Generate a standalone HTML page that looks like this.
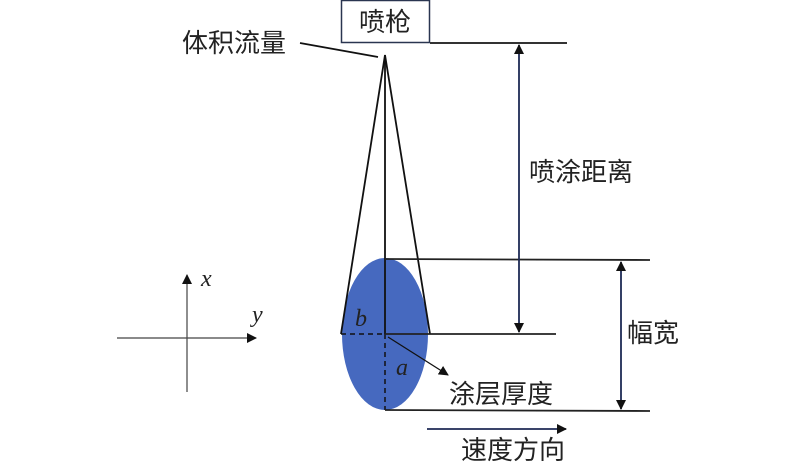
<!DOCTYPE html>
<html><head><meta charset="utf-8"><style>
html,body{margin:0;padding:0;background:#fff;}
svg{display:block;}
text{font-family:"Liberation Serif","Noto Serif CJK SC","Noto Sans CJK SC",serif;fill:#222;}
.cjk{font-family:"Liberation Sans","Noto Sans CJK SC",sans-serif;font-size:26px;}
.it{font-style:italic;font-size:24px;}
</style></head><body>
<svg width="800" height="464" viewBox="0 0 800 464" xmlns="http://www.w3.org/2000/svg">
<defs>
<marker id="ah" markerWidth="10" markerHeight="10" refX="9" refY="5" orient="auto" markerUnits="userSpaceOnUse">
<path d="M0,0 L10,5 L0,10 z" fill="#111"/></marker>
<marker id="ahb" markerWidth="10" markerHeight="10" refX="9" refY="5" orient="auto-start-reverse" markerUnits="userSpaceOnUse">
<path d="M0,0 L10,5 L0,10 z" fill="#111"/></marker>
</defs>
<ellipse cx="385" cy="334" rx="43" ry="76" fill="#4669bf"/>
<rect x="341.5" y="0.5" width="88" height="42" fill="#fff" stroke="#2a3550" stroke-width="1.5"/>
<text class="cjk" x="385" y="31" text-anchor="middle">喷枪</text>
<line x1="430" y1="43" x2="567" y2="43" stroke="#333" stroke-width="2"/>
<line x1="300" y1="43" x2="378" y2="57" stroke="#111" stroke-width="1.8"/>
<text class="cjk" x="182" y="52">体积流量</text>
<polyline points="341,334 385,55 430,334" fill="none" stroke="#111" stroke-width="1.8"/>
<line x1="385" y1="55" x2="385" y2="334" stroke="#111" stroke-width="1.8"/>
<line x1="341" y1="334" x2="385" y2="334" stroke="#111" stroke-width="1.5" stroke-dasharray="5,4"/>
<line x1="385" y1="334" x2="385" y2="410" stroke="#111" stroke-width="1.5" stroke-dasharray="5,4"/>
<line x1="385" y1="334" x2="556" y2="334" stroke="#222" stroke-width="1.8"/>
<line x1="385" y1="259" x2="650" y2="260" stroke="#222" stroke-width="1.8"/>
<line x1="385" y1="410" x2="650" y2="411" stroke="#222" stroke-width="1.8"/>
<line x1="519" y1="45" x2="519" y2="332" stroke="#1e2a55" stroke-width="1.8" marker-start="url(#ahb)" marker-end="url(#ahb)"/>
<text class="cjk" x="529" y="181">喷涂距离</text>
<line x1="621" y1="262" x2="621" y2="409" stroke="#1e2a55" stroke-width="1.8" marker-start="url(#ahb)" marker-end="url(#ahb)"/>
<text class="cjk" x="627" y="342">幅宽</text>
<line x1="388" y1="337" x2="448" y2="375" stroke="#111" stroke-width="1.3" marker-end="url(#ah)"/>
<text class="cjk" x="449" y="403">涂层厚度</text>
<text class="it" x="355" y="326">b</text>
<text class="it" x="396" y="375">a</text>
<line x1="427" y1="429" x2="566" y2="429" stroke="#1e2a55" stroke-width="1.8" marker-end="url(#ah)"/>
<text class="cjk" x="461" y="459">速度方向</text>
<line x1="117" y1="338" x2="256" y2="338" stroke="#444" stroke-width="1.2" marker-end="url(#ah)"/>
<line x1="187" y1="392" x2="187" y2="275" stroke="#444" stroke-width="1.2" marker-end="url(#ah)"/>
<text class="it" x="201" y="286">x</text>
<text class="it" x="252" y="322">y</text>
</svg>
</body></html>
